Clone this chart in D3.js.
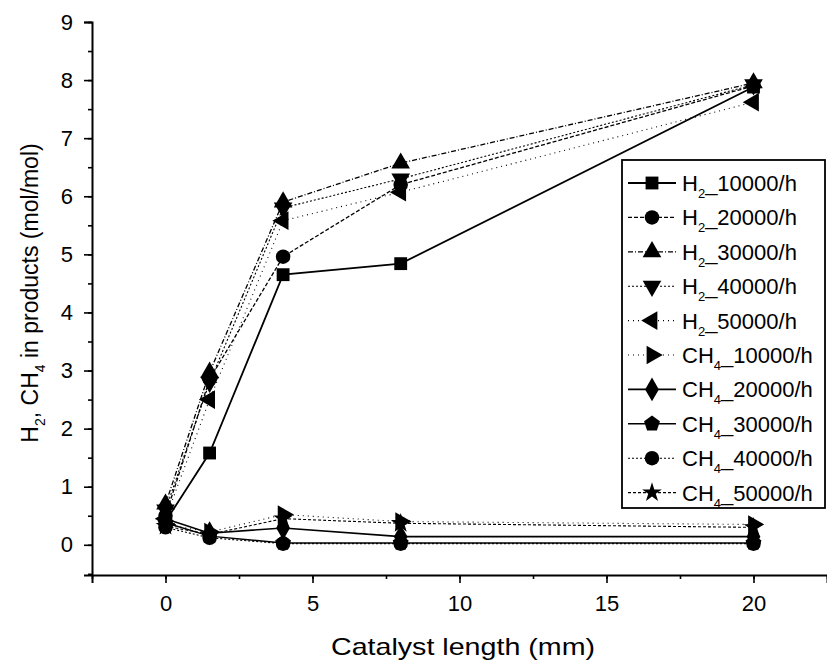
<!DOCTYPE html>
<html>
<head>
<meta charset="utf-8">
<script src="https://cdn.jsdelivr.net/npm/d3@7"></script>
<style>
  body { margin: 0; background: #fff; }
  svg { font-family: "Liberation Sans", Arial, sans-serif; }
  .line { fill: none; stroke: #000; }
</style>
</head>
<body>
<svg class="mainsvg" width="827" height="664"></svg>
<script>
var lengths = [0, 1.5, 4, 8, 20];

var h2_10000 = [0.40, 1.58, 4.65, 4.84, 7.88];
var h2_20000 = [0.50, 2.85, 4.96, 6.20, 7.90];
var h2_30000 = [0.70, 2.97, 5.90, 6.57, 7.95];
var h2_40000 = [0.60, 2.80, 5.80, 6.30, 7.92];
var h2_50000 = [0.45, 2.50, 5.58, 6.07, 7.62];

var ch4_10000 = [0.35, 0.22, 0.52, 0.40, 0.35];
var ch4_20000 = [0.45, 0.20, 0.29, 0.14, 0.14];
var ch4_30000 = [0.38, 0.15, 0.03, 0.03, 0.03];
var ch4_40000 = [0.30, 0.12, 0.02, 0.02, 0.02];
var ch4_50000 = [0.32, 0.18, 0.45, 0.37, 0.30];

var rates = ["10000/h", "20000/h", "30000/h", "40000/h", "50000/h"];

var xTicks = [0, 5, 10, 15, 20];
var yTicks = [0, 1, 2, 3, 4, 5, 6, 7, 8, 9];

// custom pentagon symbol
var symbolPentagon = {
  draw: function(ctx, size) {
    var r = Math.sqrt(size / 2.378);
    for (var i = 0; i < 5; i++) {
      var a = -Math.PI / 2 + i * 2 * Math.PI / 5;
      if (i == 0) ctx.moveTo(r * Math.cos(a), r * Math.sin(a));
      else ctx.lineTo(r * Math.cos(a), r * Math.sin(a));
    }
    ctx.closePath();
  }
};

var series = [
  { gas: "H", sub: "2", rate: rates[0], values: h2_10000, sym: d3.symbolSquare, rot: 0, dash: null, w: 1.8 },
  { gas: "H", sub: "2", rate: rates[1], values: h2_20000, sym: d3.symbolCircle, rot: 0, dash: "4,2", w: 1.3 },
  { gas: "H", sub: "2", rate: rates[2], values: h2_30000, sym: d3.symbolTriangle, rot: 0, dash: "5,2,1,2", w: 1.3 },
  { gas: "H", sub: "2", rate: rates[3], values: h2_40000, sym: d3.symbolTriangle, rot: 180, dash: "2,2", w: 1.1 },
  { gas: "H", sub: "2", rate: rates[4], values: h2_50000, sym: d3.symbolTriangle, rot: -90, dash: "1,4", w: 1.1 },
  { gas: "CH", sub: "4", rate: rates[0], values: ch4_10000, sym: d3.symbolTriangle, rot: 90, dash: "1,4", w: 1.1 },
  { gas: "CH", sub: "4", rate: rates[1], values: ch4_20000, sym: d3.symbolDiamond, rot: 0, dash: null, w: 1.6 },
  { gas: "CH", sub: "4", rate: rates[2], values: ch4_30000, sym: symbolPentagon, rot: 0, dash: null, w: 1.4 },
  { gas: "CH", sub: "4", rate: rates[3], values: ch4_40000, sym: d3.symbolCircle, rot: 0, dash: "2,2", w: 1.1 },
  { gas: "CH", sub: "4", rate: rates[4], values: ch4_50000, sym: d3.symbolStar, rot: 0, dash: "3,2", w: 1.1 }
];

function symSize(s) { return s.sym === d3.symbolStar ? 120 : (s.sym === d3.symbolTriangle ? 150 : 165); }

var svg = d3.select(".mainsvg");
var margin = { left: 92, right: 0, top: 22, bottom: 89 };
var width = 827, height = 664;

var x = d3.scaleLinear().domain([-2.5, 22.5]).range([margin.left, width - margin.right]);
var y = d3.scaleLinear().domain([-0.52, 9]).range([height - margin.bottom, margin.top]);

// axes
var xMinor = d3.range(-2.5, 22.6, 2.5);
svg.append("g")
    .attr("transform", "translate(0," + y(-0.52) + ")")
    .call(d3.axisBottom(x).tickValues(xMinor).tickSize(4).tickFormat(""))
    .call(function(g) { g.select(".domain").remove(); });
svg.append("g")
    .attr("transform", "translate(0," + y(-0.52) + ")")
    .call(d3.axisBottom(x).tickValues(xTicks).tickSize(8).tickPadding(12));

var yMinor = d3.range(-0.5, 9.01, 0.5);
svg.append("g")
    .attr("transform", "translate(" + x(-2.5) + ",0)")
    .call(d3.axisLeft(y).tickValues(yMinor).tickSize(4).tickFormat(""))
    .call(function(g) { g.select(".domain").remove(); });
svg.append("g")
    .attr("transform", "translate(" + x(-2.5) + ",0)")
    .call(d3.axisLeft(y).tickValues(yTicks).tickSize(8).tickPadding(11));

svg.selectAll(".tick line").attr("stroke-width", 1.6);
svg.selectAll(".domain").attr("stroke-width", 2);
svg.selectAll(".tick text").attr("font-size", 22).attr("fill", "#000");

// axis titles
svg.append("text")
    .attr("x", 463).attr("y", 655)
    .attr("text-anchor", "middle")
    .attr("font-size", 24)
    .attr("textLength", 264)
    .attr("lengthAdjust", "spacingAndGlyphs")
    .text("Catalyst length (mm)");

var yt = svg.append("text")
    .attr("transform", "translate(38," + 293 + ") rotate(-90)")
    .attr("text-anchor", "middle")
    .attr("font-size", 23);
yt.append("tspan").text("H");
yt.append("tspan").attr("font-size", 14).attr("dy", 7).text("2");
yt.append("tspan").attr("dy", -7).text(", CH");
yt.append("tspan").attr("font-size", 14).attr("dy", 7).text("4");
yt.append("tspan").attr("dy", -7).text(" in products (mol/mol)");

// lines + markers
var line = d3.line()
    .x(function(d, i) { return x(lengths[i]); })
    .y(function(d) { return y(d); });

series.forEach(function(s) {
  svg.append("path")
      .attr("class", "line")
      .attr("d", line(s.values))
      .attr("stroke-width", s.w)
      .attr("stroke-dasharray", s.dash);

  svg.selectAll(null)
      .data(s.values)
      .enter().append("path")
      .attr("d", d3.symbol().type(s.sym).size(symSize(s)))
      .attr("transform", function(d, i) {
        return "translate(" + x(lengths[i]) + "," + y(d) + ") rotate(" + s.rot + ")";
      })
      .attr("fill", "#000");
});

// legend
var lg = svg.append("g").attr("transform", "translate(622,160)");
lg.append("rect")
    .attr("width", 203).attr("height", 348)
    .attr("fill", "#fff").attr("stroke", "#000").attr("stroke-width", 1.8);

series.forEach(function(s, i) {
  var yy = 23 + i * 34.4;
  lg.append("line")
      .attr("x1", 6).attr("x2", 54).attr("y1", yy).attr("y2", yy)
      .attr("stroke", "#000").attr("stroke-width", s.w)
      .attr("stroke-dasharray", s.dash);
  lg.append("path")
      .attr("d", d3.symbol().type(s.sym).size(symSize(s)))
      .attr("transform", "translate(30," + yy + ") rotate(" + s.rot + ")")
      .attr("fill", "#000");
  var t = lg.append("text")
      .attr("x", 60).attr("y", yy + 8)
      .attr("font-size", 22);
  t.append("tspan").text(s.gas);
  t.append("tspan").attr("font-size", 13).attr("dy", 7).text(s.sub);
  t.append("tspan").attr("dy", -7).text("_" + s.rate);
});
</script>
</body>
</html>
